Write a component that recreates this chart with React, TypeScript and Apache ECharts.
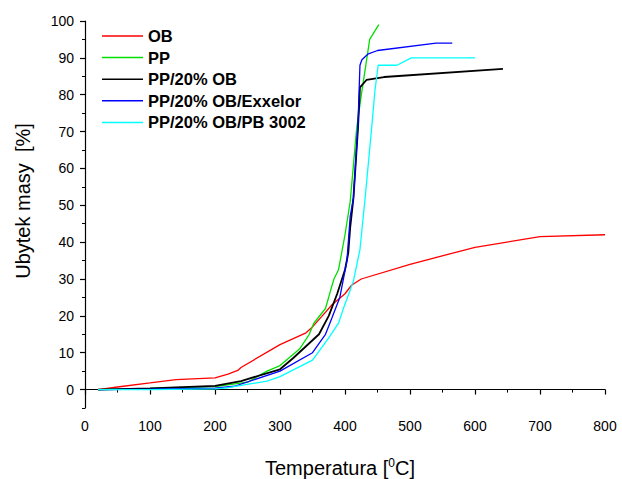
import React, { useEffect, useRef } from "react";
import * as echarts from "echarts";

const seriesNames = ["OB", "PP", "PP/20% OB", "PP/20% OB/Exxelor", "PP/20% OB/PB 3002"];
const seriesColors = ["#ff0000", "#00e000", "#000000", "#0000ff", "#00ffff"];

const obData: [number, number][] = [
  [20, 0], [50, 0.7], [100, 1.8], [140, 2.7], [200, 3.2], [220, 4.2], [235, 5.2], [240, 6],
  [300, 12.2], [340, 15.4], [350, 17], [365, 20], [380, 23], [400, 26], [410, 28.3], [425, 30],
  [500, 34], [600, 38.6], [700, 41.5], [800, 42],
];
const ppData: [number, number][] = [
  [20, 0], [100, 0.3], [200, 0.8], [250, 2], [280, 5], [300, 6.5], [330, 11], [345, 15], [352, 18],
  [370, 22], [378, 27], [383, 30], [390, 32.5], [400, 42], [408, 51], [418, 71], [426, 81],
  [438, 95], [452, 99],
];
const pp20Data: [number, number][] = [
  [20, 0], [100, 0.3], [200, 1], [240, 2.3], [300, 5.5], [320, 8.5], [360, 15], [375, 20],
  [388, 26], [400, 32.5], [405, 37], [408, 44], [413, 52], [420, 71], [423, 82], [433, 84],
  [460, 84.8], [643, 87],
];
const exxelorData: [number, number][] = [
  [20, 0], [100, 0.1], [200, 0.4], [230, 0.9], [300, 5], [350, 10], [370, 15], [380, 19.5],
  [392, 25], [397, 29.5], [403, 35], [408, 47], [413, 52], [420, 72], [423, 88], [426, 89.5],
  [435, 91], [450, 92], [540, 94], [565, 94],
];
const pb3002Data: [number, number][] = [
  [20, 0], [100, 0], [200, 0.2], [220, 0.5], [280, 2.3], [300, 3.5], [350, 8], [375, 14],
  [390, 18], [397, 21.7], [408, 27], [413, 29.5], [423, 38], [431, 52], [441, 71], [446, 81],
  [451, 88], [480, 88], [502, 90], [600, 90],
];
const allData = [obData, ppData, pp20Data, exxelorData, pb3002Data];

const yMajorTicks = [0, 10, 20, 30, 40, 50, 60, 70, 80, 90, 100];
const xTitle = "Temperatura [{sup|0}C]";
const yTitle = "Ubytek masy  [%]";

const FONT = "'Liberation Sans', Arial, sans-serif";

export default function App() {
  const ref = useRef<HTMLDivElement>(null);
  useEffect(() => {
    document.body.style.margin = "0";
    const chart = echarts.init(ref.current!, null, { renderer: "svg" });
    chart.setOption({
      animation: false,
      backgroundColor: "#ffffff",
      textStyle: { fontFamily: FONT },
      grid: { left: 85, right: 17, top: 21, bottom: 71, containLabel: false, outerBoundsMode: "none" },
      legend: {
        orient: "vertical",
        left: 102,
        top: 27,
        padding: 0,
        itemGap: 3.6,
        itemWidth: 41,
        itemHeight: 1.5,
        icon: "rect",
        data: seriesNames,
        textStyle: { fontFamily: FONT, fontWeight: "bold", fontSize: 16.5, color: "#000", lineHeight: 18 },
      },
      xAxis: {
        type: "value",
        min: 0,
        max: 800,
        interval: 100,
        name: xTitle,
        nameLocation: "middle",
        nameGap: 49,
        nameTextStyle: {
          fontFamily: FONT,
          fontSize: 20,
          color: "#000",
          padding: [0, 10, 0, 0],
          rich: { sup: { fontSize: 12, verticalAlign: "top", padding: [0, 0, 9, 0], fontFamily: FONT, color: "#000" } },
        },
        axisLine: { show: true, lineStyle: { color: "#000", width: 1.2 } },
        axisTick: { show: true, inside: false, length: 5, lineStyle: { color: "#000", width: 1.2 } },
        minorTick: { show: true, splitNumber: 2, length: 3, lineStyle: { color: "#000", width: 1 } },
        axisLabel: { fontFamily: FONT, fontSize: 14, color: "#000", margin: 11 },
        splitLine: { show: false },
      },
      yAxis: [
        {
          type: "value",
          min: -5,
          max: 100,
          position: "left",
          axisLine: { show: true, onZero: false, lineStyle: { color: "#000", width: 1.2 } },
          axisTick: { show: true, inside: false, length: 5, customValues: yMajorTicks, lineStyle: { color: "#000", width: 1.2 } },
          axisLabel: { fontFamily: FONT, fontSize: 14, color: "#000", margin: 11, customValues: yMajorTicks },
          splitLine: { show: false },
        },
        {
          type: "value",
          min: -5,
          max: 100,
          interval: 5,
          position: "left",
          offset: 0,
          axisLine: { show: false },
          axisTick: { show: true, inside: false, length: 3, lineStyle: { color: "#000", width: 1 } },
          axisLabel: { show: false },
          splitLine: { show: false },
        },
      ],
      graphic: [
        {
          type: "text",
          x: 23,
          y: 201,
          rotation: Math.PI / 2,
          style: {
            text: yTitle,
            fontFamily: FONT,
            fontSize: 20,
            fill: "#000",
            textAlign: "center",
            textVerticalAlign: "middle",
          },
        },
      ],
      series: seriesNames.map((name, i) => ({
        name,
        type: "line",
        data: allData[i],
        symbol: "none",
        yAxisIndex: 0,
        color: seriesColors[i],
        lineStyle: { color: seriesColors[i], width: i === 2 ? 1.8 : 1.3 },
      })),
    });
    return () => chart.dispose();
  }, []);
  return <div ref={ref} style={{ position: "absolute", left: 0, top: 0, width: 622, height: 479 }} />;
}
